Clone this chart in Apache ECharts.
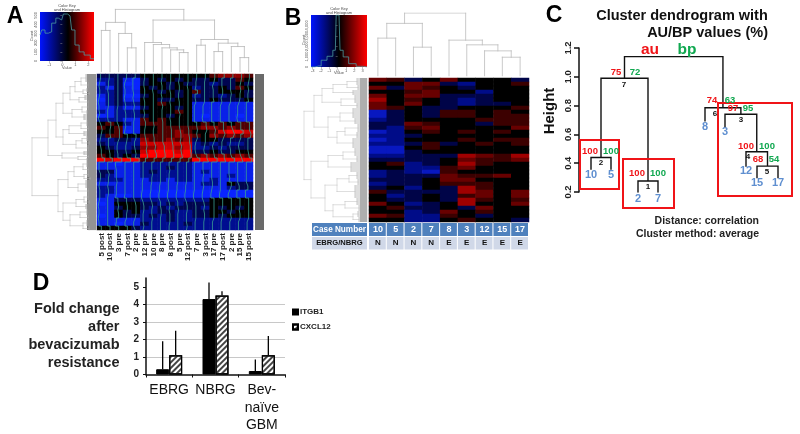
<!DOCTYPE html>
<html><head><meta charset="utf-8">
<style>html,body{margin:0;padding:0;background:#fff}#c{width:800px;height:434px}</style>
<script src="https://cdn.jsdelivr.net/npm/echarts@6/dist/echarts.min.js"></script>
</head><body><div id="c"></div>
<script>
// ---------- Panel A data ----------
const colLabelsA = ['5 post','10 post','3 pre','7 post','2 pre','12 pre','10 pre','8 pre','8 post','5 pre','12 post','7 pre','3 post','17 pre','17 post','2 pre','15 pre','15 post'];
// expression levels, 0 = lowest (blue), 4 = middle (black), 8 = highest (red)
const heatRowsA = [
 "33333 444444 4456665","22310 343434 3343354","12300 344343 3323343","21310 434344 2334354",
 "22311 443434 5334443","12300 344434 2332343","02311 443344 3343334","12322 445444 1111111",
 "11211 344434 1111111","21222 444454 1111111","01222 344344 1011101","22211 545444 1111111",
 "45421 555444 4545455","54511 445555 5665655","44501 445565 4457887","35544 555566 5465656",
 "22332 655656 3443333","32222 777777 2323223","43223 667767 2232333","44334 788878 3343344",
 "54343 888888 5656565","87888 555555 8888888","11011 222222 1111111","11111 222322 1111111",
 "33111 232222 1211111","32111 222222 1111211","22211 122122 1121111","11111 111111 1221433",
 "22111 111111 1111233","22111 000000 0000000","21001 000000 0000000","11333 222222 2244444",
 "01444 332323 3344444","11344 323233 3243434","11434 223322 3344344","01433 232322 3343444",
 "11111 222322 2222222","11011 322223 2222222","44443 222222 2222222"];
// trees: [height, left, right]; a bare number is a leaf tip height; [height, n] is a bundle of n leaves
const colTreeA = [187,[148,[124,0,0],[115,0,[72,0,0]]],[155,[88,0,[82,0,[72,0,[66,0,[58,0,0]]]]],[97,[80,0,0],[86,[61,0,0],[76,0,[43,0,0]]]]]];
const rowTreeA = [64,
 [48,[40,[33,
   [26,[21,[15,[10,8],[8,6]],[13,[9,4],[7,3]]],[17,[11,5],[8,4]]],
   [24,[14,[8,6],[9,4]],[12,6]]],
  [33,[27,[15,[9,6],[8,5]],[12,5]],[20,[14,[9,5],[7,4]],[8,6]]]],
  [34,[12,4],[18,[8,3],[9,3]]]],
 [38,[28,[22,[13,[9,6],[8,5]],[12,[8,5],[6,3]]],[18,[10,8],[8,6]]],
  [33,[20,[12,[8,6],[7,4]],[10,5]],[26,[16,[9,6],[8,5]],[13,[9,6],[7,5]]]]]];
const histValueA = [-1.72,-1.46,-1.21,-0.95,-0.69,-0.31,-0.05,0.21,0.59,0.85,1.1,1.49,1.87,2.44];
const histCountA = [285,340,305,320,415,470,450,515,495,340,175,100,65,25];

// ---------- Panel B data ----------
const caseNumbers = ['10','5','2','7','8','3','12','15','17'];
const groupCodes = ['N','N','N','N','E','E','E','E','E'];
const heatRowsB = [
 "653464443","446632445","636543444","445644244","646633344","745432344","646432334","654334445",
 "134355454","134355455","234444555","336544355","325644446","124545454","223444444","124445455",
 "223534545","114544444","113444444","223337657","333346556","452347544","442256444","232154444",
 "233365564","333466444","233455544","342437544","533337646","423435646","433437545","642347446",
 "453343644","442364544","652254344","442245443"];
const colTreeB = [188,[157,[113,0,0],[86,0,0]],[107,0,[93,0,[75,0,[56,0,0]]]]];
const rowTreeB = [63,
 [53,[45,[34,[20,[10,7],[9,5]],[14,5]],[26,[12,8],[10,5]]],
  [39,[27,[14,10],[12,6]],[30,[22,[9,8],[10,6]],[14,10]]]],
 [56,[39,[24,[12,8],[10,6]],[16,10]],
  [42,[30,[18,[10,7],[9,6]],[12,13]],[34,[22,[10,7],[8,6]],[14,[9,6],[8,5]]]]]];
const histValueB = [-3.2,-2.28,-1.68,-0.88,-0.28,-0.08,0.16,0.4,0.92,1.72,2.72,3.52];
const histCountB = [0,100,650,1030,1610,5000,5000,1610,970,320,65,0];

// ---------- Panel C data ----------
const clusterLeaves = ['10','5','2','7','8','3','12','15','17'];
const clusterLeafAxis = [12,32,59,79,126,146,167,178,199];
const clusterTree = [1.14,[0.99,[0.44,0.36,0.36],[0.276,0.2,0.2]],[0.785,0.695,[0.74,0.65,[0.48,0.38,[0.38,0.3,0.3]]]]];

// ---------- Panel D data ----------
const foldCategories = ['EBRG','NBRG','Bev-\nnaïve\nGBM'];
const itgb1 = [0.3,4.3,0.2];
const cxcl12 = [1.1,4.5,1.1];
const itgb1Upper = [1.9,5.25,0.85];
const cxcl12Upper = [2.5,4.75,2.2];
const foldTicks = [0,1,2,3,4,5];

// ---------- helpers ----------
const FONT = '"Liberation Sans", Arial, sans-serif';
const grids=[], xAxes=[], yAxes=[], series=[], gfx=[];
function addGrid(rect,x,y){
  grids.push(Object.assign({containLabel:false,show:false},rect));
  const g=grids.length-1;
  xAxes.push(Object.assign({gridIndex:g},x)); yAxes.push(Object.assign({gridIndex:g},y));
  return g;
}
const hiddenVal=(min,max,extra)=>Object.assign({type:'value',min,max,show:false},extra||{});
const cleanRows=rows=>rows.map(r=>r.replace(/ /g,''));
function treeSegs(tree,leafPos){
  const segs=[]; let i=0;
  const pos=()=>{const p=leafPos?leafPos[i]:i+0.5;i++;return p;};
  (function walk(n){
    if(typeof n==='number') return {p:pos(),h:n};
    if(n.length===2){
      const ps=[];for(let k=0;k<n[1];k++){const p=pos();ps.push(p);segs.push([[n[0],p],[0,p]]);}
      segs.push([[n[0],ps[0]],[n[0],ps[ps.length-1]]]);
      return {p:(ps[0]+ps[ps.length-1])/2,h:n[0]};
    }
    const a=walk(n[1]),b=walk(n[2]),h=n[0];
    segs.push([[a.h,a.p],[h,a.p]]);segs.push([[b.h,b.p],[h,b.p]]);segs.push([[h,a.p],[h,b.p]]);
    return {p:(a.p+b.p)/2,h};
  })(tree);
  return segs;
}
function segSeries(g,segs,horizontal,color,width){
  const data=[];
  segs.forEach(s=>{
    s.forEach(q=>data.push(horizontal?[q[0],q[1]]:[q[1],q[0]]));
    data.push([null,null]);
  });
  series.push({type:'line',xAxisIndex:g,yAxisIndex:g,data,showSymbol:false,symbol:'none',connectNulls:false,silent:true,
    lineStyle:{color,width,cap:'square'},animation:false,z:3});
}
function text(t,x,y,o){o=o||{};
  gfx.push({type:'text',x,y,rotation:o.rot||0,z:50,silent:true,
    style:{text:t,fill:o.fill||'#111',font:(o.weight||'bold')+' '+(o.size||10)+'px '+FONT,align:o.align||'center',verticalAlign:'middle'}});
}
function rect(x,y,w,h,fill,z){gfx.push({type:'rect',z:z||0,silent:true,shape:{x,y,width:w,height:h},style:{fill}});}
function heat(rows,rect_,labels,labelOn){
  const nc=rows[0].length,nr=rows.length,data=[];
  rows.forEach((r,ri)=>[...r].forEach((c,ci)=>data.push([ci,ri,+c])));
  const g=addGrid(rect_,
    {type:'category',data:labels,axisLine:{show:false},axisTick:{show:false},splitLine:{show:false},
     axisLabel:labelOn?{show:true,rotate:90,interval:0,margin:3,fontSize:8,fontWeight:'bold',color:'#222',fontFamily:FONT}:{show:false}},
    {type:'category',inverse:true,data:rows.map((_,i)=>i),show:false});
  series.push({type:'heatmap',xAxisIndex:g,yAxisIndex:g,data,silent:true,animation:false,progressive:0,itemStyle:{borderWidth:0}});
  return {series:series.length-1,nc,nr};
}
function key(r,histX,histY,xMin,xMax,yMax,xT,yT,stop){
  rect(r.left,r.top,r.width,r.height,new echarts.graphic.LinearGradient(0,0,1,0,[{offset:0,color:'#0014ff'},{offset:stop,color:'#000'},{offset:1,color:'#ff0000'}]),0);
  const lab={show:true,fontSize:4,color:'#555',margin:2,fontFamily:FONT};
  const ln={show:true,lineStyle:{color:'#888',width:0.5}};
  const g=addGrid(r,
    {type:'value',min:xMin,max:xMax,splitLine:{show:false},axisLine:{show:false},
     axisTick:Object.assign({length:2,customValues:xT},ln),axisLabel:Object.assign({customValues:xT},lab)},
    {type:'value',min:0,max:yMax,splitLine:{show:false},axisLine:{show:false},
     axisTick:Object.assign({length:2,customValues:yT},ln),axisLabel:Object.assign({customValues:yT,rotate:90},lab)});
  series.push({type:'line',xAxisIndex:g,yAxisIndex:g,data:histX.map((v,i)=>[v,histY[i]]),step:'middle',showSymbol:false,symbol:'none',
    silent:true,animation:false,lineStyle:{color:'#4a9aa0',width:0.8},z:3});
}

// ---------- Panel A ----------
const rowsA=cleanRows(heatRowsA);
key({left:40,top:12,width:54,height:49},histValueA,histCountA,-1.72,2.44,537,[-1,0,1,2],[0,100,200,300,400,500],0.52);
text('Color Key',67,6,{size:4,weight:'normal',fill:'#444'});
text('and Histogram',67,10,{size:4,weight:'normal',fill:'#444'});
text('Value',67,68,{size:4,weight:'normal',fill:'#555'});
text('Count',32,36,{size:4,weight:'normal',fill:'#555',rot:Math.PI/2});
segSeries(addGrid({left:97,top:9,width:156,height:63},hiddenVal(0,18),hiddenVal(0,188)),treeSegs(colTreeA),false,'#b8b8b8',0.8);
segSeries(addGrid({left:32,top:74,width:64,height:156},hiddenVal(0,64,{inverse:true}),hiddenVal(0,156,{inverse:true})),treeSegs(rowTreeA),true,'#b0b0b0',0.5);
rect(87,74,9,156,'#777777',1);
rect(255,74,9,156,'#6a6a6a',1);
const hA=heat(rowsA,{left:97,top:74,width:156,height:156},colLabelsA,true);
const gTrace=addGrid({left:97,top:74,width:156,height:156},hiddenVal(0,18),hiddenVal(0,39,{inverse:true}));
colLabelsA.forEach((_,c)=>{
  const data=[];
  rowsA.forEach((r,ri)=>{const x=c+0.5+(+r[c]-4)*0.09;data.push([x,ri]);data.push([x,ri+1]);});
  series.push({type:'line',xAxisIndex:gTrace,yAxisIndex:gTrace,data,showSymbol:false,symbol:'none',silent:true,animation:false,
    lineStyle:{color:'#3a9f92',width:0.8},z:4});
});

// ---------- Panel B ----------
key({left:311,top:15,width:56,height:52},histValueB,histCountB,-3.2,3.52,5000,[-3,-2,-1,0,1,2,3],[0,1000,2000,3000,4000],0.5);
text('Color Key',339,9,{size:4,weight:'normal',fill:'#444'});
text('and Histogram',339,13,{size:4,weight:'normal',fill:'#444'});
text('Value',339,73,{size:4,weight:'normal',fill:'#555'});
text('Count',304,40,{size:4,weight:'normal',fill:'#555',rot:Math.PI/2});
segSeries(addGrid({left:369,top:13,width:160,height:63},hiddenVal(0,9),hiddenVal(0,188)),treeSegs(colTreeB),false,'#bcbcbc',0.8);
segSeries(addGrid({left:304,top:78,width:63,height:144},hiddenVal(0,63,{inverse:true}),hiddenVal(0,144,{inverse:true})),treeSegs(rowTreeB),true,'#bcbcbc',0.5);
rect(360,78,7,144,'#a0a0a0',1);
const hB=heat(cleanRows(heatRowsB),{left:369,top:78,width:160,height:144},caseNumbers,false);
// table under the heatmap
rect(312,223,55,13,'#4f81bd',1); rect(312,237,55,12.5,'#d0d8e8',1);
text('Case Number',339.5,229.8,{fill:'#fff',size:8.2});
text('EBRG/NBRG',339.5,243.2,{fill:'#111',size:7.6});
const cw=160/9;
caseNumbers.forEach((c,i)=>{
  const x=369+i*cw;
  rect(x,223,cw-1,13,'#4f81bd',1); rect(x,237,cw-1,12.5,'#d0d8e8',1);
  text(c,x+cw/2,229.8,{fill:'#fff',size:9});
  text(groupCodes[i],x+cw/2,243.2,{fill:'#111',size:8});
});

// ---------- Panel C ----------
const gC=addGrid({left:579,top:48,width:221,height:144},
  {type:'value',min:0,max:221,show:false},
  {type:'value',min:0.2,max:1.2,interval:0.2,splitLine:{show:false},
   axisLine:{show:true,lineStyle:{color:'#111',width:1.5}},axisTick:{show:true,length:5,lineStyle:{color:'#111',width:1.5}},
   axisLabel:{rotate:90,fontSize:9.5,fontWeight:'bold',color:'#222',margin:6,fontFamily:FONT,formatter:v=>v.toFixed(1)}});
segSeries(gC,treeSegs(clusterTree,clusterLeafAxis),false,'#111',1.4);
const boxes=[[580,140,39,49],[623,159,51,49],[718,103,74,93]];
boxes.forEach(b=>gfx.push({type:'rect',z:40,silent:true,shape:{x:b[0],y:b[1],width:b[2],height:b[3]},style:{fill:'none',stroke:'#f01418',lineWidth:2}}));
text('Cluster dendrogram with',682,16,{size:14.5});
text('AU/BP values (%)',768,33,{size:14.5,align:'right'});
text('au',650,50,{size:15.5,fill:'#f01418'});
text('bp',687,50,{size:15.5,fill:'#10a850'});
text('Height',550,111,{size:15,rot:Math.PI/2});
text('Distance: correlation',759,221,{size:10.5,align:'right',fill:'#222'});
text('Cluster method: average',759,234,{size:10.5,align:'right',fill:'#222'});
const RED='#f01418',GRN='#10a850',BLU='#5f8fd0';
[[590,151,'100',RED],[611,151,'100',GRN],[616,72,'75',RED],[635,72,'72',GRN],[637,173,'100',RED],[658,173,'100',GRN],
 [712,100,'74',RED],[730,100,'63',GRN],[733,108.7,'97',RED],[748,108.7,'95',GRN],[746,146,'100',RED],[767,146,'100',GRN],
 [758,159,'68',RED],[774,159,'54',GRN]].forEach(a=>text(a[2],a[0],a[1],{size:9.5,fill:a[3]}));
[[624,85,'7'],[601,163,'2'],[648,187,'1'],[715,114,'6'],[741,120,'3'],[748,157,'4'],[767,172,'5']].forEach(a=>text(a[2],a[0],a[1],{size:8}));
const leafLabelY=[175,175,199,199,127,132,171,183,183];
clusterLeaves.forEach((l,i)=>text(l,579+clusterLeafAxis[i],leafLabelY[i],{size:11,fill:BLU}));

// ---------- Panel D ----------
const gD=addGrid({left:146,top:278,width:139,height:97},
  {type:'category',data:foldCategories,axisLine:{show:true,lineStyle:{color:'#111',width:1.5}},
   axisTick:{show:true,alignWithLabel:false,length:3,lineStyle:{color:'#111',width:1}},
   axisLabel:{interval:0,fontSize:14,color:'#111',lineHeight:17.5,margin:7,fontFamily:FONT}},
  {type:'value',min:0,max:5.5,interval:1,
   axisLine:{show:true,lineStyle:{color:'#111',width:1.5}},
   axisTick:{show:true,length:3,customValues:foldTicks,lineStyle:{color:'#111'}},
   axisLabel:{customValues:foldTicks,fontSize:10,fontWeight:'bold',color:'#222',margin:7,fontFamily:FONT},
   splitLine:{show:true,showMaxLine:false,showMinLine:false,lineStyle:{color:'#c8c8c8',width:1}}});
const BAR=13;
series.push({type:'bar',name:'ITGB1',xAxisIndex:gD,yAxisIndex:gD,data:itgb1,barWidth:BAR,barGap:0,animation:false,silent:true,
  itemStyle:{color:'#000',borderColor:'#000',borderWidth:1}});
series.push({type:'bar',name:'CXCL12',xAxisIndex:gD,yAxisIndex:gD,data:cxcl12,barWidth:BAR,barGap:0,animation:false,silent:true,
  itemStyle:{color:'#fff',borderColor:'#000',borderWidth:1.2,
    decal:{symbol:'rect',symbolSize:1,color:'#444',dashArrayX:[1,0],dashArrayY:[1.2,1.6],rotation:-Math.PI/4}}});
function errSeries(vals,uppers,off){
  series.push({type:'custom',xAxisIndex:gD,yAxisIndex:gD,silent:true,animation:false,z:5,clip:false,
    data:vals.map((v,i)=>[i,v,uppers[i]]),
    renderItem:(p,api)=>{
      const a=api.coord([api.value(0),api.value(1)]),b=api.coord([api.value(0),api.value(2)]);
      return {type:'line',shape:{x1:a[0]+off,y1:a[1],x2:a[0]+off,y2:b[1]},style:{stroke:'#000',lineWidth:1.3}};
    }});
}
errSeries(itgb1,itgb1Upper,-BAR/2);
errSeries(cxcl12,cxcl12Upper,BAR/2);
['Fold change','after','bevacizumab','resistance'].forEach((t,i)=>text(t,119.5,309+i*18,{size:14.5,align:'right',fill:'#222'}));

// panel letters
text('A',15,16.5,{size:23,fill:'#000'});
text('B',293,19,{size:23,fill:'#000'});
text('C',554,16,{size:23,fill:'#000'});
text('D',41,284,{size:23,fill:'#000'});

const chart=echarts.init(document.getElementById('c'),null,{renderer:'canvas'});
chart.setOption({
  animation:false,backgroundColor:'#fff',textStyle:{fontFamily:FONT},
  grid:grids,xAxis:xAxes,yAxis:yAxes,series,
  visualMap:[
   {show:false,type:'continuous',min:0,max:8,seriesIndex:hA.series,inRange:{color:['#0a24ff','#0a20e8','#000e90','#000550','#000000','#500000','#900000','#cc0000','#ff0000']}},
   {show:false,type:'continuous',min:0,max:8,seriesIndex:hB.series,inRange:{color:['#0a20e0','#0818c0','#000c88','#000448','#000000','#3c0000','#680000','#a00000','#d00000']}}],
  legend:{show:true,data:['ITGB1','CXCL12'],icon:'rect',selectedMode:false,orient:'vertical',left:287,top:303,itemWidth:5,itemHeight:5,itemGap:7,
    textStyle:{fontSize:8,fontWeight:'bold',color:'#222',fontFamily:FONT,padding:[0,0,0,-3]}},
  graphic:{elements:gfx}
});
</script></body></html>
